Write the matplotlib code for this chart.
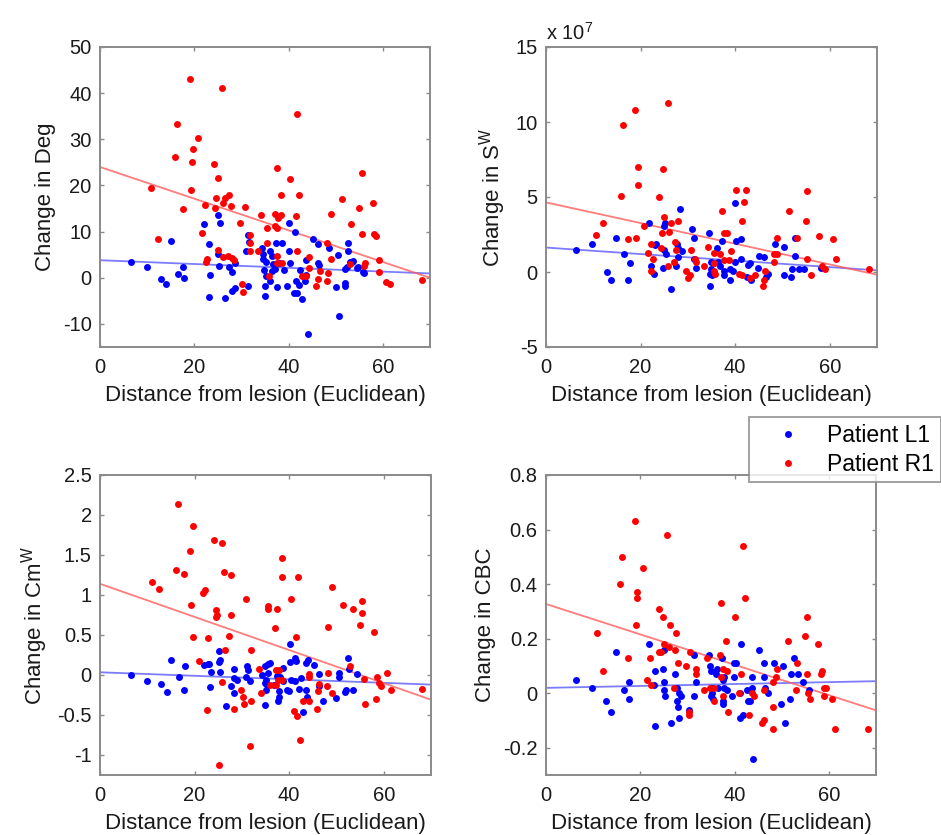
import matplotlib
matplotlib.use("Agg")
import matplotlib.pyplot as plt
from matplotlib.lines import Line2D
import numpy as np

plt.rcParams["font.family"] = ["Liberation Sans", "DejaVu Sans"]
plt.rcParams["mathtext.default"] = "regular"

# ---- data ----
# Change in Deg
deg_l1_x = [25.1, 22.0, 25.4, 40.1, 41.4, 31.4, 15.1, 23.2, 31.7, 37.3, 38.7, 45.2, 46.3, 48.5, 52.5,
            34.4, 30.9, 36.0, 40.1, 52.6, 25.1, 34.6, 36.4, 50.4, 43.7, 34.6, 35.3, 6.5, 10.0, 17.7,
            25.2, 27.4, 28.6, 40.2, 46.3, 46.5, 53.5, 36.8, 37.9, 36.5, 37.2, 39.0, 34.8, 52.0, 54.6,
            56.0, 28.1, 16.6, 35.3, 23.3, 12.9, 17.9, 14.0, 36.0, 43.6, 42.4, 41.5, 43.5, 31.3, 35.1,
            37.5, 39.7, 42.3, 28.7, 28.1, 41.1, 41.8, 50.0, 52.0, 23.2, 26.6, 34.9, 42.8, 50.6, 44.1,
            53.0, 53.6, 52.3, 54.7, 55.7, 51.9]
deg_l1_y = [13.7, 11.6, 11.8, 11.9, 10.0, 9.2, 8.0, 7.3, 7.8, 7.5, 7.5, 8.4, 7.3, 6.4, 7.6,
            6.4, 5.8, 5.8, 5.7, 5.8, 5.2, 5.1, 4.7, 5.0, 3.9, 4.0, 3.5, 3.5, 2.4, 2.4,
            2.6, 2.4, 3.1, 3.3, 3.1, 2.8, 3.4, 2.9, 3.3, 1.5, 1.8, 1.6, 1.7, 2.0, 2.2,
            1.0, 1.2, 0.9, 0.4, 0.5, -0.2, 0.0, -1.4, -0.6, 0.7, 1.7, -0.7, -0.7, -1.7, -1.8,
            -2.0, -1.8, -1.5, -2.2, -2.8, -3.4, -3.3, -2.0, -1.7, -4.2, -4.4, -3.9, -4.7, -8.2, -12.1,
            3.5, 3.7, 2.4, 2.4, 1.3, -1.1]
deg_r1_x = [19.1, 25.8, 41.8, 16.4, 20.8, 19.8, 16.0, 19.6, 24.2, 37.5, 25.0, 40.3, 55.5, 10.9, 19.2,
            38.3, 42.3, 24.6, 26.6, 27.3, 26.1, 27.8, 22.3, 24.3, 17.6, 30.7, 51.4, 57.9, 55.0, 48.9,
            34.2, 37.2, 38.3, 37.7, 41.5, 29.8, 37.2, 37.5, 35.5, 53.3, 21.6, 31.9, 55.6, 58.2, 58.5,
            12.4, 35.5, 31.8, 31.9, 25.1, 48.2, 41.7, 33.6, 26.0, 27.2, 27.9, 28.4, 22.8, 22.5, 37.6,
            44.3, 49.0, 37.6, 38.5, 59.2, 56.3, 53.1, 56.0, 44.4, 46.6, 48.4, 59.1, 46.3, 48.2, 42.9,
            43.8, 30.2, 35.8, 30.4, 45.9, 60.6, 61.5, 68.2]
deg_r1_y = [43.0, 41.1, 35.5, 33.4, 30.3, 28.0, 26.2, 25.1, 24.6, 23.8, 21.7, 21.4, 22.7, 19.5, 19.1,
            17.9, 17.9, 17.2, 17.3, 18.0, 16.1, 15.5, 15.7, 15.2, 14.9, 15.3, 17.0, 16.3, 15.1, 13.9,
            13.6, 13.8, 13.6, 12.9, 13.3, 11.8, 11.3, 10.8, 10.8, 11.6, 9.6, 9.3, 9.4, 9.4, 9.1,
            8.4, 7.5, 7.6, 5.7, 6.0, 7.5, 5.7, 5.7, 4.6, 4.7, 4.2, 3.8, 4.0, 3.5, 4.7,
            4.4, 4.1, 3.1, 3.1, 3.8, 3.1, 2.9, 2.5, 2.2, 1.4, 1.1, 1.3, -0.2, -0.6, 0.4,
            0.4, -1.4, 0.4, -3.1, -1.7, -0.9, -1.3, -0.4]

# Change in S^W (x 10^7)
sw_l1_x = [28.3, 40.0, 21.8, 25.2, 25.0, 30.9, 34.4, 14.9, 31.3, 37.2, 41.3, 40.2, 9.8, 23.3, 23.0,
           27.8, 48.4, 50.3, 52.6, 28.0, 28.7, 24.9, 25.3, 36.1, 6.3, 16.6, 27.9, 31.3, 45.1, 46.2,
           41.3, 39.9, 34.9, 35.5, 36.4, 42.7, 43.2, 44.9, 52.6, 17.7, 22.3, 24.8, 27.5, 31.7, 34.9,
           36.9, 37.6, 38.9, 39.6, 52.1, 53.4, 54.6, 50.3, 51.9, 47.0, 46.6, 22.9, 34.6, 35.1, 37.7,
           39.0, 43.4, 42.6, 12.8, 13.8, 17.4, 34.7, 26.5, 58.2]
sw_l1_y = [4.2, 4.6, 3.3, 3.3, 3.1, 2.9, 2.6, 2.3, 2.3, 2.1, 2.2, 2.1, 1.9, 1.9, 1.8,
           1.9, 1.9, 1.7, 2.3, 1.6, 1.4, 1.5, 1.2, 1.6, 1.5, 1.2, 1.0, 0.9, 1.1, 1.0,
           0.9, 0.7, 0.7, 0.6, 0.7, 0.5, 0.6, 0.3, 1.1, 0.6, 0.4, 0.3, 0.4, 0.3, 0.2,
           0.4, 0.1, 0.2, 0.1, 0.2, 0.2, 0.2, -0.2, -0.3, -0.1, -0.3, -0.1, -0.1, -0.2, -0.2,
           -0.5, -0.5, -0.3, 0.0, -0.5, -0.5, -0.9, -1.1, 0.3]
sw_r1_x = [25.7, 18.9, 16.2, 19.4, 24.8, 19.5, 15.8, 24.0, 40.2, 42.2, 41.8, 55.3, 37.2, 51.3, 54.9,
           41.4, 12.1, 28.0, 26.4, 25.0, 20.7, 10.6, 24.5, 26.0, 37.6, 38.2, 17.4, 19.0, 48.9, 53.0,
           57.8, 60.6, 22.1, 27.2, 27.5, 34.2, 30.6, 21.6, 24.3, 22.7, 27.1, 35.5, 36.9, 39.1, 37.7,
           38.6, 31.6, 31.7, 33.5, 48.2, 48.9, 48.2, 55.3, 61.4, 58.4, 59.0, 56.0, 22.1, 25.8, 29.6,
           30.5, 30.1, 35.6, 35.5, 35.7, 40.9, 41.5, 43.1, 44.1, 46.3, 46.2, 45.8, 68.4]
sw_r1_y = [11.3, 10.8, 9.8, 7.0, 6.9, 5.8, 5.1, 5.0, 5.5, 5.5, 4.7, 5.4, 4.1, 4.1, 3.4,
           3.4, 3.3, 3.4, 3.3, 3.7, 3.1, 2.5, 2.6, 2.7, 2.6, 2.6, 2.2, 2.3, 2.3, 2.3,
           2.4, 2.2, 1.9, 2.0, 1.5, 1.7, 1.5, 1.3, 1.6, 0.9, 0.7, 1.3, 1.2, 1.4, 0.8,
           0.8, 0.9, 0.7, 0.4, 1.2, 1.2, 0.7, 0.9, 0.9, 0.4, 0.2, -0.2, 0.1, 0.4, 0.1,
           -0.2, -0.4, 0.6, 0.1, -0.1, -0.1, -0.2, -0.4, -0.2, 0.1, -0.5, -0.9, 0.2]

# Change in Cm^W
cm_l1_x = [40.1, 25.1, 15.1, 25.4, 25.2, 41.3, 41.5, 43.9, 43.5, 52.4, 18.0, 21.9, 22.8, 23.1, 36.0,
           40.1, 45.2, 31.0, 28.3, 31.3, 34.8, 35.5, 38.6, 23.5, 25.3, 30.8, 34.3, 35.6, 37.5, 38.0,
           46.4, 50.5, 50.6, 52.7, 54.4, 6.5, 10.0, 16.7, 28.3, 29.0, 31.8, 35.0, 36.7, 34.8, 35.3,
           38.6, 40.4, 41.3, 42.6, 12.9, 17.7, 14.1, 23.2, 27.6, 28.3, 35.1, 37.9, 39.5, 40.0, 42.1,
           43.5, 52.0, 51.9, 53.5, 46.4, 43.8, 47.2, 50.0, 37.6, 37.9, 26.6, 34.9, 43.0]
cm_l1_y = [0.39, 0.30, 0.19, 0.19, 0.16, 0.21, 0.17, 0.19, 0.15, 0.21, 0.11, 0.12, 0.14, 0.14, 0.15,
           0.16, 0.13, 0.11, 0.08, 0.06, 0.11, 0.14, 0.09, 0.04, 0.04, -0.02, 0.00, 0.03, -0.01, -0.02,
           0.01, 0.03, -0.02, 0.07, 0.01, 0.00, -0.08, -0.02, -0.04, -0.06, -0.07, -0.06, -0.13, -0.10, -0.12,
           -0.08, -0.06, -0.07, -0.04, -0.11, -0.19, -0.21, -0.15, -0.14, -0.23, -0.19, -0.20, -0.19, -0.20, -0.18,
           -0.19, -0.19, -0.21, -0.19, -0.14, -0.27, -0.32, -0.29, -0.33, -0.28, -0.39, -0.37, -0.46]
cm_r1_x = [16.4, 19.7, 19.1, 24.2, 25.8, 38.4, 16.1, 17.7, 26.3, 27.6, 38.4, 41.8, 11.0, 12.4, 22.3,
           21.7, 49.0, 19.2, 30.8, 40.3, 35.5, 35.6, 37.4, 24.5, 24.7, 24.5, 27.7, 51.4, 53.4, 55.5,
           55.5, 55.0, 48.2, 37.1, 57.9, 19.7, 22.8, 27.2, 41.5, 26.5, 32.0, 20.9, 52.9, 33.7, 37.2,
           37.8, 44.2, 44.3, 48.2, 25.9, 37.6, 38.5, 36.0, 37.3, 46.4, 48.1, 55.9, 58.5, 59.0, 59.4,
           60.6, 61.6, 29.9, 34.1, 46.2, 49.0, 30.2, 30.5, 31.9, 43.0, 44.3, 28.3, 22.6, 45.9, 56.0,
           58.3, 41.1, 41.7, 42.3, 31.8, 25.1, 68.0]
cm_r1_y = [2.14, 1.86, 1.55, 1.69, 1.65, 1.46, 1.31, 1.26, 1.29, 1.25, 1.23, 1.23, 1.16, 1.08, 1.06,
           1.03, 1.10, 0.88, 0.95, 0.95, 0.86, 0.83, 0.82, 0.81, 0.75, 0.73, 0.75, 0.87, 0.82, 0.92,
           0.78, 0.62, 0.60, 0.59, 0.54, 0.48, 0.46, 0.49, 0.48, 0.31, 0.31, 0.18, 0.11, 0.08, 0.06,
           0.06, 0.01, -0.02, 0.03, -0.09, -0.06, -0.06, -0.12, -0.12, -0.11, -0.14, -0.05, -0.02, -0.10, -0.14,
           0.03, -0.19, -0.19, -0.23, -0.20, -0.22, -0.27, -0.36, -0.33, -0.33, -0.33, -0.42, -0.44, -0.42, -0.36,
           -0.30, -0.45, -0.51, -0.81, -0.89, -1.12, -0.18]

# Change in CBC
cbc_l1_x = [21.9, 41.3, 45.2, 14.9, 25.1, 31.3, 34.5, 37.3, 52.6, 46.2, 48.4, 39.8, 40.2, 50.3, 23.1,
            24.9, 27.4, 34.7, 35.0, 36.0, 36.3, 37.7, 37.6, 39.9, 43.7, 46.2, 51.9, 53.4, 6.3, 17.5,
            31.9, 54.5, 9.8, 16.5, 22.9, 25.0, 27.7, 35.1, 35.2, 36.5, 37.8, 42.6, 43.6, 46.4, 47.1,
            55.7, 25.0, 28.3, 28.7, 38.4, 39.4, 35.0, 35.5, 25.3, 12.8, 17.7, 31.3, 35.3, 41.1, 37.5,
            37.6, 42.9, 43.3, 51.8, 49.8, 27.8, 28.1, 13.8, 30.3, 41.8, 41.1, 28.2, 26.5, 23.1, 50.6,
            44.0]
cbc_l1_y = [0.18, 0.18, 0.16, 0.15, 0.16, 0.14, 0.14, 0.13, 0.13, 0.11, 0.11, 0.11, 0.11, 0.10, 0.08,
            0.09, 0.07, 0.10, 0.08, 0.07, 0.09, 0.06, 0.05, 0.06, 0.06, 0.06, 0.07, 0.07, 0.05, 0.04,
            0.04, 0.04, 0.02, 0.01, 0.03, 0.04, 0.02, 0.02, 0.02, 0.02, 0.02, 0.01, 0.02, 0.02, 0.00,
            0.01, 0.01, 0.00, -0.01, 0.01, -0.01, -0.01, -0.02, -0.01, -0.03, -0.02, -0.01, -0.00, -0.00, -0.03,
            -0.04, -0.03, -0.03, -0.02, -0.04, -0.03, -0.05, -0.07, -0.06, -0.08, -0.09, -0.09, -0.11, -0.12, -0.11,
            -0.24]
cbc_r1_x = [18.9, 25.6, 41.8, 16.2, 20.6, 15.7, 19.4, 19.4, 42.2, 37.2, 24.0, 40.1, 55.3, 24.8, 26.3,
            19.0, 27.5, 10.8, 54.9, 51.3, 57.8, 38.2, 25.0, 26.0, 27.3, 17.4, 24.3, 23.9, 22.1, 30.6,
            34.2, 37.0, 53.2, 28.0, 29.6, 31.8, 31.8, 37.6, 38.3, 37.2, 41.4, 48.9, 48.8, 48.2, 55.4,
            58.3, 58.5, 12.1, 21.4, 22.3, 27.1, 33.5, 34.8, 35.7, 46.2, 43.8, 53.0, 59.0, 59.3, 55.6,
            55.9, 59.0, 60.6, 35.6, 37.5, 41.0, 44.1, 30.4, 30.3, 38.5, 43.0, 48.1, 45.9, 46.2, 48.2,
            61.3, 68.3]
cbc_r1_y = [0.63, 0.58, 0.54, 0.50, 0.46, 0.40, 0.37, 0.35, 0.35, 0.33, 0.31, 0.28, 0.28, 0.28, 0.25,
            0.25, 0.22, 0.22, 0.21, 0.19, 0.18, 0.19, 0.18, 0.17, 0.16, 0.13, 0.15, 0.15, 0.13, 0.15,
            0.13, 0.14, 0.11, 0.11, 0.10, 0.09, 0.07, 0.09, 0.08, 0.06, 0.07, 0.09, 0.06, 0.04, 0.07,
            0.07, 0.08, 0.08, 0.05, 0.03, 0.02, 0.01, 0.02, 0.02, 0.01, 0.00, 0.01, 0.02, 0.02, -0.00,
            -0.02, -0.01, -0.02, -0.03, -0.01, -0.00, -0.01, -0.08, -0.07, -0.07, -0.08, -0.05, -0.11, -0.10, -0.13,
            -0.13, -0.13]

# fitted lines (intercept, slope)
deg_fit_l1, deg_fit_r1 = (3.8, -0.041), (24.0, -0.343)
sw_fit_l1, sw_fit_r1 = (1.63, -0.0217), (4.64, -0.0689)
cm_fit_l1, cm_fit_r1 = (0.034, -0.0022), (1.14, -0.0207)
cbc_fit_l1, cbc_fit_r1 = (0.0195, 0.00035), (0.327, -0.00557)

series_names = ["Patient L1", "Patient R1"]

W, H = 941, 835
fig = plt.figure(figsize=(W / 100, H / 100), dpi=100)

panels = [
    ([100, 47, 330, 300], deg_l1_x, deg_l1_y, deg_r1_x, deg_r1_y, deg_fit_l1, deg_fit_r1,
     "Change in Deg", (-15, 50), [-10, 0, 10, 20, 30, 40, 50], ["-10", "0", "10", "20", "30", "40", "50"]),
    ([546, 47, 331, 300], sw_l1_x, sw_l1_y, sw_r1_x, sw_r1_y, sw_fit_l1, sw_fit_r1,
     "Change in S$^W$", (-5, 15), [-5, 0, 5, 10, 15], ["-5", "0", "5", "10", "15"]),
    ([100, 475, 331, 300], cm_l1_x, cm_l1_y, cm_r1_x, cm_r1_y, cm_fit_l1, cm_fit_r1,
     "Change in Cm$^W$", (-1.25, 2.5), [-1, -0.5, 0, 0.5, 1, 1.5, 2, 2.5],
     ["-1", "-0.5", "0", "0.5", "1", "1.5", "2", "2.5"]),
    ([546, 475, 330, 300], cbc_l1_x, cbc_l1_y, cbc_r1_x, cbc_r1_y, cbc_fit_l1, cbc_fit_r1,
     "Change in CBC", (-0.3, 0.8), [-0.2, 0, 0.2, 0.4, 0.6, 0.8], ["-0.2", "0", "0.2", "0.4", "0.6", "0.8"]),
]

spine_col = "#8a8a8a"
fs = 14.5       # tick labels
fs_lab = 16     # axis labels (MATLAB uses 1.1x)
txt_col = "#1a1a1a"

for (px, lx, ly, rx, ry, fl, fr, ylab, ylim, yt, ytl) in panels:
    left, top, w, h = px
    ax = fig.add_axes([left / W, 1 - (top + h) / H, w / W, h / H])
    xx = np.array([0, 70])
    ax.plot(xx, fl[0] + fl[1] * xx, color="#5b5bff", lw=1.3, alpha=0.8, zorder=1)
    ax.plot(xx, fr[0] + fr[1] * xx, color="#ff5b5b", lw=1.3, alpha=0.8, zorder=1)
    ax.plot(lx, ly, "o", color="#0000ff", ms=5, mew=0, zorder=3)
    ax.plot(rx, ry, "o", color="#ff0000", ms=5, mew=0, zorder=3)
    ax.set_xlim(0, 70)
    ax.set_ylim(*ylim)
    ax.set_xticks([0, 20, 40, 60])
    ax.set_xticklabels(["0", "20", "40", "60"])
    ax.set_yticks(yt)
    ax.set_yticklabels(ytl)
    ax.tick_params(direction="in", length=3, width=1, color=spine_col, top=True, right=True,
                   labelsize=fs, labelcolor=txt_col)
    ax.tick_params(axis="x", pad=8)
    ax.tick_params(axis="y", pad=6)
    for s in ax.spines.values():
        s.set_color(spine_col)
        s.set_linewidth(1.4)
    ax.set_xlabel("Distance from lesion (Euclidean)", fontsize=fs_lab, color=txt_col, labelpad=6)
    ax.set_ylabel(ylab, fontsize=fs_lab, color=txt_col, labelpad=5)
    if ylab.startswith("Change in S"):
        ax.text(0.0, 1.012, "x 10$^7$", transform=ax.transAxes, fontsize=14.5,
                ha="left", va="bottom", color=txt_col)

handles = [Line2D([], [], ls="none", marker="o", ms=5, mew=0, color="#0000ff"),
           Line2D([], [], ls="none", marker="o", ms=5, mew=0, color="#ff0000")]
leg = fig.legend(handles, series_names, loc="upper left", bbox_to_anchor=(749 / W, 1 - 417 / H),
                 fontsize=16.5, frameon=True, fancybox=False, edgecolor=spine_col,
                 borderaxespad=0, handlelength=2.8, handletextpad=0.3, labelspacing=0.25,
                 borderpad=0.3)
leg.get_frame().set_linewidth(1.4)
leg.set_zorder(10)

fig.savefig("out.png", dpi=100)
